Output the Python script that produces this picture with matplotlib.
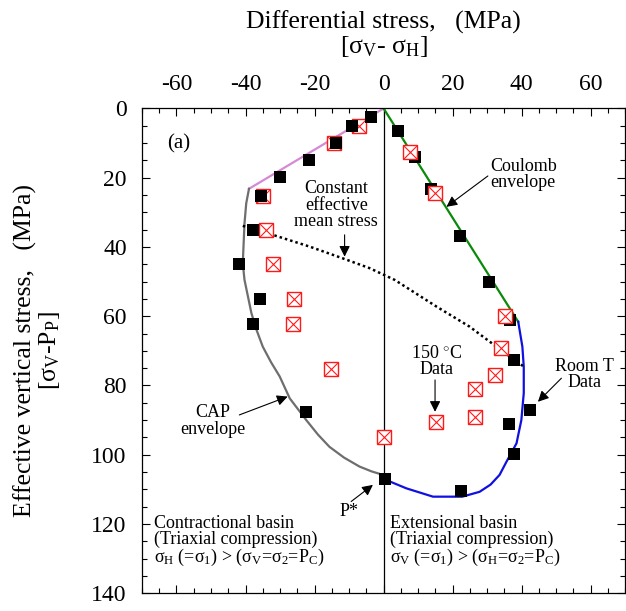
import matplotlib
matplotlib.use("Agg")
import matplotlib.pyplot as plt
import numpy as np
from matplotlib.ticker import MultipleLocator

plt.rcParams["font.family"] = ["Liberation Serif", "DejaVu Serif"]
plt.rcParams["mathtext.fontset"] = "custom"
plt.rcParams["mathtext.rm"] = "Liberation Serif"
plt.rcParams["mathtext.it"] = "Liberation Serif:italic"
plt.rcParams["axes.unicode_minus"] = False

# ---------- data (MPa) ----------
# room temperature tests (black squares)
room_x = [-3.6, -9.1, -13.7, -21.7, -29.9, -35.4, -37.7, -42.0, -35.9, -37.7, -22.4,
          4.1, 9.0, 13.8, 22.2, 30.4, 36.5, 37.7, 42.3, 36.3, 37.7, 0.3, 22.5]
room_y = [2.4, 5.0, 9.9, 14.9, 19.9, 25.2, 35.1, 44.9, 55.0, 62.3, 87.6,
          6.4, 13.9, 23.3, 36.7, 50.0, 61.1, 72.6, 87.1, 91.1, 99.8, 107.1, 110.4]

# 150 C tests (red crossed squares)
hot_x = [-7.2, -14.5, -35.0, -34.2, -32.1, -26.1, -26.3, -15.2, 0.0,
         7.5, 14.8, 35.3, 34.1, 32.4, 26.4, 26.4, 15.3]
hot_y = [5.0, 9.9, 25.2, 35.1, 44.9, 55.0, 62.3, 75.2, 94.8,
         12.5, 24.5, 59.8, 69.2, 77.0, 81.1, 89.0, 90.4]

# Coulomb envelope, both branches
coul_left_x = [0.0, -39.0]
coul_left_y = [0.0, 23.2]
coul_right_x = [0.0, 39.0]
coul_right_y = [0.0, 61.6]

# CAP envelope (contractional side)
cap_x = [-39.0, -39.8, -40.3, -40.8, -40.3, -38.3, -36.8, -35.0, -32.6, -30.1, -27.2,
         -22.4, -19.0, -15.7, -11.5, -7.0, -3.5, -1.2, 0.3]
cap_y = [23.2, 27.4, 33.2, 44.7, 49.5, 59.1, 64.0, 68.8, 73.3, 77.4, 83.7,
         90.0, 94.2, 97.7, 100.8, 103.4, 104.8, 105.5, 107.1]

# cap on the extensional side
ext_x = [39.0, 40.2, 40.6, 40.6, 39.9, 38.5, 35.6, 33.6, 31.0, 27.8, 22.8, 14.3, 6.6, 0.3]
ext_y = [61.6, 68.8, 74.6, 82.2, 90.0, 96.7, 102.0, 105.8, 108.6, 110.7, 112.1, 112.1, 109.7, 107.1]

# constant effective mean stress path
mean_x = [-40.8, -32.1, -21.4, -11.8, -4.1, 3.2, 15.3, 24.9, 32.7, 40.4]
mean_y = [33.9, 36.5, 39.9, 43.3, 46.1, 49.5, 57.2, 63.0, 68.8, 74.4]

# ---------- figure ----------
fig = plt.figure(figsize=(6.26, 6.11), dpi=100)
ax = fig.add_axes([0.2268, 0.029, 0.772, 0.7935])

ax.axvline(0, color="black", lw=0.9, zorder=1)

ax.plot(coul_left_x, coul_left_y, color="#d58ad5", lw=1.6, zorder=2)
ax.plot(coul_right_x, coul_right_y, color="#0a8a0a", lw=1.6, zorder=2)
ax.plot(cap_x, cap_y, color="#6e6e6e", lw=1.6, zorder=2)
ax.plot(ext_x, ext_y, color="#1010e0", lw=1.6, zorder=2)
ax.plot(mean_x, mean_y, color="black", lw=1.8, ls=(0, (1, 1.2)), zorder=2)

room_x = np.array(room_x)
room_y = np.array(room_y)
left = room_x < 0

# black squares on the right side sit under the red ones, on the left over them
ax.plot(room_x[~left], room_y[~left], "s", color="black", ms=8.5, mew=0, zorder=3)
ax.plot(hot_x, hot_y, "s", mfc="white", mec="#ff1a1a", ms=9.5, mew=1.0, zorder=4)
ax.plot(hot_x, hot_y, "x", color="#ff1a1a", ms=9.5, mew=0.8, zorder=4)
ax.plot(room_x[left], room_y[left], "s", color="black", ms=8.5, mew=0, zorder=5)

ax.set_xlim(-70, 70)
ax.set_ylim(140, 0)
ax.xaxis.set_major_locator(MultipleLocator(20))
ax.xaxis.set_minor_locator(MultipleLocator(5))
ax.yaxis.set_major_locator(MultipleLocator(20))
ax.yaxis.set_minor_locator(MultipleLocator(5))
ax.tick_params(which="both", direction="in", top=True, bottom=True, left=True, right=True,
               labeltop=True, labelbottom=False, width=0.8)
ax.tick_params(which="major", length=6)
ax.tick_params(which="minor", length=3.8)
ax.tick_params(axis="x", which="major", labelsize=17, pad=9.5)
ax.tick_params(axis="y", which="major", labelsize=17, pad=11)
for sp in ax.spines.values():
    sp.set_linewidth(0.9)

# axis titles
ax.text(0.5, 1.1654, "Differential stress,   (MPa)", transform=ax.transAxes,
        ha="center", va="baseline", fontsize=18.5)
ax.text(0.5, 1.1139, r"[σ$_\mathrm{V}$- σ$_\mathrm{H}$]", transform=ax.transAxes,
        ha="center", va="baseline", fontsize=18.5)
ax.set_ylabel("Effective vertical stress,   (MPa)\n" + r"[σ$_\mathrm{V}$-P$_\mathrm{P}$]",
              fontsize=18.5, linespacing=1.0)
ax.yaxis.set_label_coords(-0.165, 0.5)

# annotations
fs = 13
arrow = dict(arrowstyle="-|>", color="black", lw=0.8, mutation_scale=16,
             shrinkA=0, shrinkB=0)

ax.text(-59.3, 10.1, "(a)", fontsize=15, ha="center", va="center")

ax.text(-13.7, 27.9, "Constant\neffective\nmean stress", fontsize=fs,
        ha="center", va="center", linespacing=0.95)
ax.annotate("", xy=(-11.3, 42.8), xytext=(-11.3, 36.5), arrowprops=arrow)

ax.text(30.9, 19.1, "Coulomb\nenvelope", fontsize=fs, ha="left", va="center",
        linespacing=0.95)
ax.annotate("", xy=(18.2, 28.4), xytext=(30.2, 19.5), arrowprops=arrow)

ax.text(-49.6, 90.3, "CAP\nenvelope", fontsize=fs, ha="center", va="center",
        linespacing=0.95)
ax.annotate("", xy=(-27.8, 83.2), xytext=(-41.8, 88.5), arrowprops=arrow)

ax.text(15.3, 73.1, "150 $^{\\circ}$C\nData", fontsize=fs, ha="center", va="center",
        linespacing=0.95)
ax.annotate("", xy=(14.9, 87.6), xytext=(14.9, 78.4), arrowprops=arrow)

ax.text(58.3, 76.9, "Room T\nData", fontsize=fs, ha="center", va="center",
        linespacing=0.95)
ax.annotate("", xy=(44.7, 84.7), xytext=(51.5, 77.9), arrowprops=arrow)

ax.text(-9.9, 116.4, "P*", fontsize=fs, ha="center", va="center")
ax.annotate("", xy=(-3.1, 108.7), xytext=(-9.4, 113.5), arrowprops=arrow)

ax.text(-66.4, 125.0,
        "Contractional basin\n(Triaxial compression)\n"
        r"σ$_\mathrm{H}$ (=σ$_\mathrm{1}$) > (σ$_\mathrm{V}$=σ$_\mathrm{2}$=P$_\mathrm{C}$)",
        fontsize=fs, ha="left", va="center", linespacing=0.9)
ax.text(1.9, 125.0,
        "Extensional basin\n(Triaxial compression)\n"
        r"σ$_\mathrm{V}$ (=σ$_\mathrm{1}$) > (σ$_\mathrm{H}$=σ$_\mathrm{2}$=P$_\mathrm{C}$)",
        fontsize=fs, ha="left", va="center", linespacing=0.9)

fig.savefig("out.png", dpi=100)
